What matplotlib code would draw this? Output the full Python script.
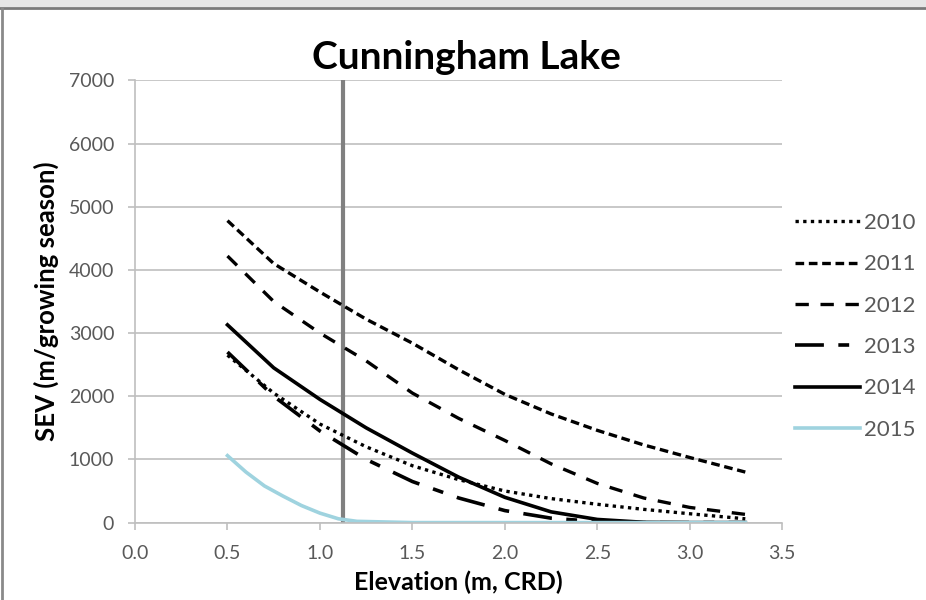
#!/usr/bin/env python3
"""
Cunningham Lake - SEV vs elevation, one curve per year
"""

import matplotlib.pyplot as plt
from matplotlib.patches import Rectangle
from matplotlib.lines import Line2D

elev = [0.5, 0.75, 1.0, 1.25, 1.5, 1.75, 2.0, 2.25, 2.5, 2.75, 3.0, 3.3]
sev_2010 = [2650, 2050, 1560, 1200, 900, 680, 500, 380, 290, 210, 140, 60]
sev_2011 = [4780, 4100, 3650, 3220, 2840, 2420, 2030, 1720, 1460, 1230, 1030, 800]
sev_2012 = [4220, 3500, 3000, 2560, 2050, 1650, 1300, 930, 620, 390, 240, 130]
sev_2013 = [2700, 2000, 1450, 1000, 650, 390, 190, 70, 15, 0, 0, 0]
sev_2014 = [3130, 2450, 1950, 1500, 1100, 720, 400, 170, 50, 5, 0, 0]

elev_2015 = [0.5, 0.6, 0.7, 0.8, 0.9, 1.0, 1.1, 1.2, 1.5, 2.0, 2.5, 3.0, 3.3]
sev_2015 = [1060, 800, 580, 420, 270, 150, 60, 20, 0, 0, 0, 0, 0]

ref_elev = 1.125  # vertical reference line

plt.rcParams['font.family'] = ['Lato', 'DejaVu Sans']

fig = plt.figure(figsize=(9.26, 6), dpi=100)
ax = fig.add_axes([0.1458, 0.129, 0.699, 0.737])

# window-ish frame like the screenshot
fig.patches.append(Rectangle((0, 0.988), 1, 0.012, transform=fig.transFigure,
                             facecolor='#e6e6e6', edgecolor='none', zorder=0))
fig.lines.append(Line2D([0, 1], [0.986, 0.986], transform=fig.transFigure,
                        color='#7a7a7a', lw=2))
fig.lines.append(Line2D([0.002, 0.002], [0, 0.986], transform=fig.transFigure,
                        color='#8a8a8a', lw=2))

ax.plot(elev, sev_2010, color='black', lw=2.4, ls=(0, (1, 1.3)), label='2010')
ax.plot(elev, sev_2011, color='black', lw=2.4, ls=(0, (2.6, 1.4)), label='2011')
ax.plot(elev, sev_2012, color='black', lw=2.4, ls=(0, (4, 3.5)), label='2012')
ax.plot(elev, sev_2013, color='black', lw=2.6, ls=(0, (8, 4, 3, 4)), label='2013')
ax.plot(elev, sev_2014, color='black', lw=2.6, ls='-', label='2014')
ax.plot(elev_2015, sev_2015, color='#9fd3df', lw=2.6, ls='-', label='2015')

ax.axvline(ref_elev, color='#808080', lw=3, zorder=1)

ax.set_xlim(0, 3.5)
ax.set_ylim(0, 7000)
ax.set_xticks([0.0, 0.5, 1.0, 1.5, 2.0, 2.5, 3.0, 3.5])
ax.set_xticklabels(['0.0', '0.5', '1.0', '1.5', '2.0', '2.5', '3.0', '3.5'])
ax.set_yticks(range(0, 7001, 1000))
ax.yaxis.grid(True, color='#bfbfbf', lw=1.2)
ax.set_axisbelow(True)

for side in ['top', 'right']:
    ax.spines[side].set_visible(False)
ax.spines['left'].set_color('#bfbfbf')
ax.spines['bottom'].set_color('#bfbfbf')
ax.spines['left'].set_linewidth(1.2)
ax.spines['bottom'].set_linewidth(1.2)
ax.tick_params(axis='both', colors='#bfbfbf', labelcolor='#595959',
               labelsize=14, length=5, width=1.2, direction='out')
ax.tick_params(axis='x', pad=11)
ax.tick_params(axis='y', pad=10)

ax.set_title('Cunningham Lake', fontsize=28, fontweight='bold', pad=8, x=0.512)
ax.set_xlabel('Elevation (m, CRD)', fontsize=18, fontweight='bold', labelpad=6)
ax.set_ylabel('SEV (m/growing season)', fontsize=18.5, fontweight='bold', labelpad=7)

ax.legend(loc='upper left', bbox_to_anchor=(1.02, 0.70), frameon=False,
          borderpad=0, borderaxespad=0,
          fontsize=16, labelspacing=0.96, handlelength=2.9, handletextpad=0.2,
          labelcolor='#595959')

fig.savefig('out.png', dpi=100, facecolor='white')
